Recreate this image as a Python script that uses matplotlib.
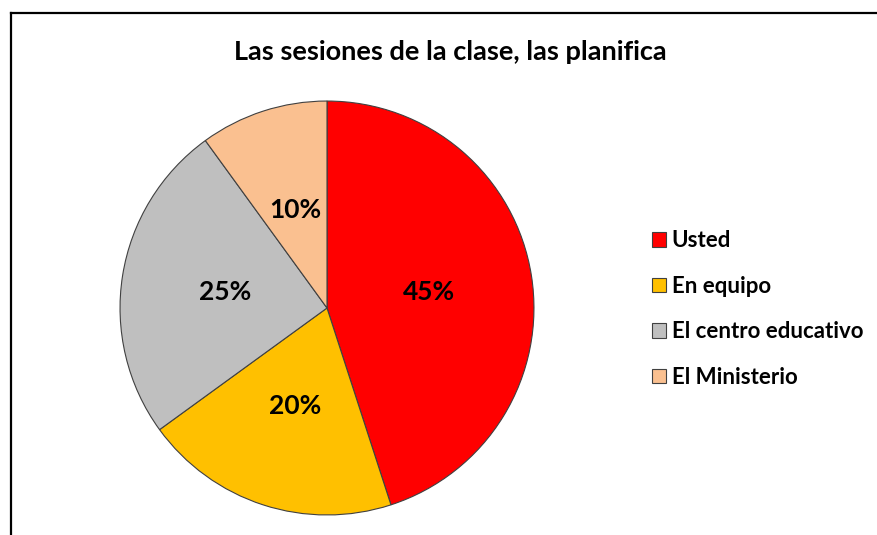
import matplotlib
matplotlib.use('Agg')
import matplotlib.pyplot as plt
import matplotlib.lines as mlines

plt.rcParams['font.family'] = ['Lato', 'DejaVu Sans']

# Data
title = 'Las sesiones de la clase, las planifica'
categories = ['Usted', 'En equipo', 'El centro educativo', 'El Ministerio']
shares = [45, 20, 25, 10]
colors = ['#FF0000', '#FFC000', '#BFBFBF', '#FAC090']

fig = plt.figure(figsize=(8.78, 5.35), dpi=100)

# Pie axes placed so the pie is centred at about (327, 308) px with radius 208 px
W, H = 878, 535
cx, cy, r = 327, 308, 208
ax = fig.add_axes([(cx - r) / W, 1 - (cy + r) / H, 2 * r / W, 2 * r / H])

wedges, texts, autotexts = ax.pie(
    shares, colors=colors, startangle=90, counterclock=False,
    autopct='%1.0f%%', pctdistance=0.5,
    wedgeprops=dict(edgecolor='#404040', linewidth=0.8),
    textprops=dict(fontsize=19, fontweight='bold', color='black'))
ax.set_xlim(-1.005, 1.005)
ax.set_ylim(-1.005, 1.005)

fig.text(450 / W, 1 - 52 / H, title, ha='center', va='center',
         fontsize=19.5, fontweight='bold')

leg = fig.legend(wedges, categories, loc='center left',
                 bbox_to_anchor=(652 / W, 1 - 309 / H), frameon=False,
                 prop=dict(size=16, weight='bold'),
                 borderpad=0, borderaxespad=0,
                 handlelength=0.63, handleheight=0.63, handletextpad=0.25,
                 labelspacing=1.1)
for h in leg.legend_handles:
    h.set_edgecolor('#404040')
    h.set_linewidth(0.8)

# Chart frame (only top and left edges visible in the crop)
fig.add_artist(mlines.Line2D([11 / W, 1], [1 - 13 / H, 1 - 13 / H], color='black', lw=1.6))
fig.add_artist(mlines.Line2D([11 / W, 11 / W], [0, 1 - 13 / H], color='black', lw=1.6))

fig.savefig('out.png', dpi=100)
